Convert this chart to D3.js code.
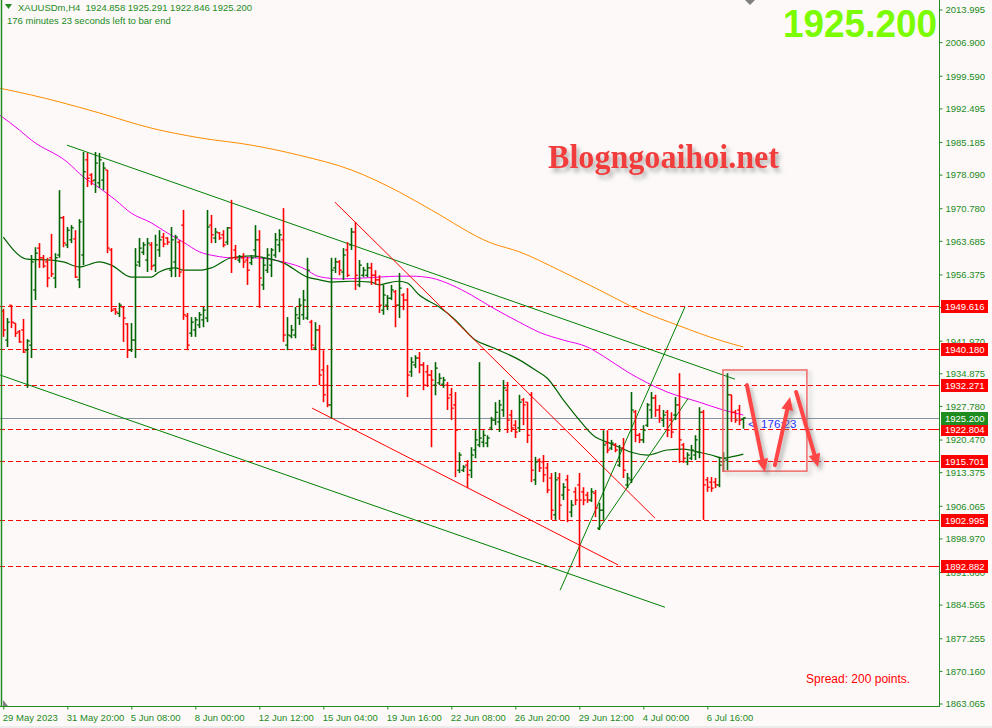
<!DOCTYPE html>
<html><head><meta charset="utf-8">
<script src="https://cdn.jsdelivr.net/npm/d3@7/dist/d3.min.js"></script>
<style>
html,body{margin:0;padding:0;background:#fdf9f9;overflow:hidden;}
svg{display:block;}
</style></head><body>
<svg id="c" width="992" height="728"></svg>
<script>
// ---------- DATA ----------
const openP = [
1948.4,1942.1,1949.7,1945.8,1943.9,1944.3,1939.9,1941.0,1953.0,1962.1,
1960.0,1959.1,1960.0,1955.6,1960.6,1968.7,1962.8,1963.9,1964.1,1955.2,
1960.6,1981.3,1978.0,1976.9,1976.3,1976.9,1979.1,1961.7,1948.9,1947.9,
1949.3,1945.6,1939.9,1942.1,1959.1,1961.2,1959.5,1962.8,1958.4,1961.7,
1964.5,1964.3,1957.3,1959.1,1963.4,1967.1,1947.3,1943.6,1944.3,1945.4,
1946.5,1946.9,1967.1,1964.3,1965.4,1965.0,1963.4,1966.5,1961.7,1959.5,
1960.0,1959.5,1958.9,1961.7,1963.9,1954.1,1957.3,1958.4,1960.6,1962.8,
1963.9,1941.0,1943.0,1943.2,1946.9,1947.6,1946.9,1946.0,1940.4,1944.3,
1935.6,1932.3,1928.0,1957.8,1959.1,1956.9,1961.7,1962.8,1965.6,1954.1,
1956.2,1956.2,1957.8,1956.2,1955.2,1948.6,1949.7,1951.2,1952.6,1949.7,
1951.9,1950.8,1935.2,1936.7,1938.2,1936.7,1935.2,1934.5,1932.3,1932.8,
1932.5,1932.3,1930.2,1928.0,1913.8,1913.8,1914.9,1913.8,1918.2,1919.3,
1919.9,1919.7,1923.0,1924.7,1924.3,1926.9,1931.2,1925.8,1923.6,1923.0,
1929.1,1928.6,1930.2,1911.7,1916.0,1915.6,1914.3,1912.1,1904.1,1912.1,
1908.4,1911.7,1904.7,1909.1,1910.6,1909.1,1908.4,1907.3,1908.8,1901.2,
1905.1,1919.7,1918.6,1919.3,1914.9,1918.6,1910.6,1911.7,1926.5,1921.4,
1920.4,1923.6,1926.9,1929.5,1926.9,1924.7,1926.4,1924.7,1925.8,1928.0,
1919.3,1915.6,1916.4,1917.1,1917.7,1926.4,1911.7,1911.2,1911.2,1910.6,
1915.6,1916.0,1930.2,1926.4,1926.9,1924.858];
const highP = [
1948.9,1946.9,1949.7,1945.8,1944.3,1946.7,1942.3,1960.6,1962.3,1963.2,
1960.6,1960.0,1965.2,1961.0,1974.7,1969.1,1966.7,1967.1,1966.0,1968.4,
1983.0,1982.8,1978.4,1983.0,1982.8,1980.8,1979.1,1962.1,1949.1,1950.2,
1949.3,1945.8,1945.8,1962.1,1964.3,1963.4,1964.3,1963.4,1965.0,1966.0,
1965.4,1964.5,1966.7,1965.0,1963.9,1970.4,1948.0,1947.1,1947.1,1948.2,
1949.3,1970.4,1969.3,1966.5,1965.6,1966.0,1966.7,1972.6,1962.8,1960.6,
1961.0,1960.2,1960.6,1967.1,1966.0,1960.0,1962.1,1962.1,1965.4,1966.2,
1970.8,1947.1,1945.4,1949.3,1951.2,1953.0,1960.0,1946.5,1946.0,1945.4,
1939.9,1936.7,1960.0,1960.0,1959.5,1962.1,1963.4,1966.5,1967.8,1959.5,
1958.0,1958.9,1958.9,1957.3,1956.2,1954.1,1951.9,1954.1,1953.0,1956.7,
1952.3,1953.4,1938.4,1938.8,1939.5,1937.3,1936.7,1935.6,1937.3,1934.9,
1934.1,1933.0,1931.7,1930.8,1917.7,1914.9,1916.0,1918.8,1922.5,1937.3,
1922.5,1921.4,1925.4,1928.6,1929.1,1933.4,1933.0,1926.9,1924.7,1930.2,
1929.5,1928.6,1930.8,1916.7,1916.4,1917.1,1915.4,1913.2,1913.4,1913.2,
1911.0,1912.8,1907.3,1910.1,1913.2,1910.1,1909.1,1909.9,1909.5,1906.7,
1922.5,1922.5,1920.4,1919.7,1919.3,1920.8,1913.2,1930.8,1926.9,1921.9,
1923.6,1928.4,1930.8,1930.2,1928.0,1926.9,1926.9,1926.4,1929.7,1934.9,
1919.7,1917.7,1919.3,1921.4,1927.5,1926.9,1912.3,1912.3,1912.1,1916.7,
1917.7,1934.9,1930.2,1926.9,1928.0,1925.291];
const lowP = [
1942.8,1940.6,1944.7,1942.8,1941.5,1939.3,1931.7,1938.2,1950.8,1957.8,
1957.8,1953.6,1955.8,1953.4,1960.0,1962.3,1962.1,1963.2,1955.6,1953.4,
1958.4,1975.4,1975.8,1974.1,1975.2,1974.7,1961.0,1948.2,1947.6,1947.1,
1941.7,1938.2,1939.5,1938.2,1958.0,1960.6,1956.9,1957.3,1956.9,1960.2,
1962.3,1962.8,1955.8,1955.8,1955.8,1946.5,1939.9,1942.8,1942.8,1944.7,
1944.9,1946.0,1963.2,1963.2,1963.9,1962.3,1962.8,1956.7,1959.5,1958.9,
1957.8,1954.1,1958.4,1960.0,1949.1,1953.0,1956.7,1955.8,1960.0,1961.2,
1941.7,1939.9,1942.5,1942.5,1945.4,1946.5,1946.5,1939.9,1939.9,1932.3,
1928.6,1927.5,1925.1,1956.7,1956.2,1955.2,1955.8,1961.7,1953.0,1953.6,
1955.8,1955.8,1954.1,1954.1,1948.0,1947.6,1948.6,1950.8,1944.9,1946.9,
1948.6,1929.7,1934.1,1936.0,1934.9,1931.2,1931.9,1918.8,1930.1,1932.3,
1931.7,1926.9,1924.7,1912.3,1913.2,1913.4,1909.9,1912.1,1916.4,1918.8,
1918.8,1918.8,1922.5,1923.6,1922.1,1925.4,1921.9,1922.1,1920.8,1922.1,
1923.6,1919.7,1911.2,1910.6,1913.4,1911.2,1908.8,1903.0,1903.0,1903.0,
1907.3,1902.5,1903.6,1906.2,1892.7,1906.2,1906.7,1906.9,1903.6,1900.8,
1903.0,1917.5,1918.2,1917.7,1914.5,1912.1,1909.9,1911.0,1919.9,1919.7,
1919.7,1923.2,1925.1,1925.4,1924.1,1923.2,1921.0,1920.8,1924.7,1915.4,
1915.4,1914.9,1916.0,1916.0,1916.4,1903.0,1909.1,1909.1,1909.9,1910.1,
1913.4,1913.8,1924.3,1924.1,1923.6,1922.846];
const closeP = [
1944.3,1946.0,1946.0,1943.6,1941.7,1939.5,1941.9,1959.1,1961.0,1960.0,
1958.2,1955.6,1956.5,1960.0,1968.7,1963.2,1966.0,1966.5,1955.8,1967.8,
1978.7,1977.3,1976.7,1980.6,1981.3,1979.5,1962.1,1948.6,1948.2,1949.7,
1946.9,1939.9,1942.1,1958.4,1962.1,1962.8,1963.2,1958.2,1962.8,1963.9,
1963.0,1963.4,1963.9,1964.5,1956.9,1947.6,1941.0,1946.0,1946.5,1947.6,
1948.6,1966.7,1965.0,1965.6,1964.3,1962.8,1966.5,1960.0,1960.0,1960.2,
1959.1,1957.3,1960.0,1963.9,1955.6,1958.4,1960.6,1961.7,1963.9,1965.0,
1943.2,1943.2,1944.3,1947.6,1949.7,1950.8,1957.3,1941.0,1944.3,1934.5,
1930.2,1928.0,1957.3,1959.1,1957.3,1960.6,1956.2,1965.6,1956.2,1958.4,
1957.3,1957.8,1956.2,1955.2,1949.7,1951.9,1951.2,1953.0,1949.7,1953.4,
1950.8,1934.5,1937.3,1938.2,1936.7,1932.3,1934.5,1933.4,1936.0,1933.8,
1933.4,1929.5,1927.3,1922.5,1917.1,1914.5,1912.8,1917.1,1920.4,1920.8,
1921.4,1920.8,1924.7,1926.4,1928.0,1931.7,1924.7,1923.0,1922.1,1928.6,
1928.0,1921.4,1913.8,1915.6,1914.3,1912.8,1909.5,1905.1,1911.7,1906.2,
1910.1,1909.5,1906.2,1907.3,1907.3,1907.3,1907.3,1909.1,1905.6,1905.1,
1919.3,1918.2,1919.7,1918.2,1918.2,1913.8,1912.1,1926.9,1921.4,1920.4,
1922.5,1928.0,1929.5,1926.9,1925.1,1925.8,1922.5,1922.1,1928.0,1920.4,
1916.4,1917.1,1918.2,1920.4,1926.4,1910.6,1910.1,1909.9,1910.6,1914.9,
1916.4,1930.2,1926.4,1924.7,1924.7,1925.200];

// time axis: bar index of each date label, and the labels
const dateTickIdx = [0,16,32,48,64,80,96,112,128,144,160,176];
const dateTickLabels = ["29 May 2023","31 May 20:00","5 Jun 08:00","8 Jun 00:00","12 Jun 12:00","15 Jun 04:00","19 Jun 16:00","22 Jun 08:00","26 Jun 20:00","29 Jun 12:00","4 Jul 00:00","6 Jul 16:00"];
// price axis tick labels
const priceTicks = [2013.995,2006.900,1999.590,1992.495,1985.185,1978.090,1970.780,1963.685,1956.375,1949.280,1941.970,1934.875,1927.780,1920.470,1913.375,1906.065,1898.970,1891.660,1884.565,1877.255,1870.160,1863.065];
// horizontal support / resistance levels
const levels = [1949.616,1940.180,1932.271,1922.804,1915.701,1902.995,1892.882];
const lastPrice = 1925.200;

// moving averages, [bar index, price]
const maGreen = [[0,1964.5],[6,1959.7],[12,1959.5],[15,1959.1],[19,1958.0],[24,1959.1],[27,1958.4],[32,1955.8],[37,1955.8],[39,1956.9],[43,1957.8],[45,1957.3],[49,1957.3],[52,1957.8],[57,1960.0],[62,1960.4],[67,1959.7],[70,1958.9],[76,1955.8],[79,1955.2],[82,1954.7],[87,1954.9],[92,1954.7],[94,1954.1],[96,1954.5],[99,1954.9],[101,1954.5],[104,1951.9],[109,1949.3],[113,1946.5],[118,1942.1],[122,1940.6],[129,1937.8],[133,1935.6],[136,1933.8],[140,1929.1],[143,1925.8],[148,1921.0],[151,1919.9],[154,1918.8],[157,1917.7],[161,1917.1],[166,1918.2],[170,1918.4],[174,1917.7],[177,1917.1],[180,1916.4],[182,1916.7],[185,1917.3]];
const maMagenta = [[-1,1991.1],[4,1987.8],[7,1985.6],[16,1980.8],[20,1977.6],[24,1975.2],[28,1972.6],[32,1969.7],[37,1967.6],[41,1965.4],[45,1963.4],[49,1961.3],[53,1960.4],[57,1960.0],[62,1960.0],[70,1959.1],[76,1957.3],[78,1956.2],[81,1955.6],[84,1955.4],[90,1955.6],[94,1955.8],[99,1956.0],[102,1956.0],[107,1955.6],[112,1954.1],[117,1951.9],[122,1949.3],[129,1946.0],[134,1943.8],[140,1942.1],[146,1940.6],[150,1938.6],[156,1935.2],[161,1932.8],[166,1930.8],[174,1928.6],[180,1926.9],[185,1925.8]];
const maOrange = [[-1,1996.9],[7,1995.4],[14,1993.9],[24,1991.5],[37,1988.2],[49,1986.1],[62,1984.5],[74,1982.3],[87,1979.1],[99,1974.3],[107,1970.4],[122,1963.2],[129,1961.3],[139,1957.3],[149,1953.0],[159,1948.6],[169,1945.2],[179,1942.1],[185,1940.6]];

// drawn trend lines: [index1, price1, index2, price2]
const greenTrend = [[15.9,1984.5,182.9,1933.6],[-0.8,1934.5,165.4,1884.0],[139.2,1887.7,170.4,1949.3],[148.7,1900.8,171.2,1929.4]];
const redTrend = [[82.9,1972.1,162.9,1903.4],[77.2,1927.3,153.7,1893.2]];
// annotation box and projected arrows
const boxArea = [179.9,1935.6,200.9,1913.6];
const arrows = [[185.9,1932.3,190.4,1913.4],[192.9,1914.9,196.7,1929.7],[198.2,1930.8,203.7,1914.5]];

// ---------- DRAW ----------
const W = 992, H = 728;
const plotR = 939, plotB = 707;
const svg = d3.select("#c");
const x = d3.scaleLinear().domain([0,185]).range([3.3,743.3]);
const y = d3.scaleLinear().domain([1863.065,2013.995]).range([703.5,9.5]);
const axisCol = "#228b22", txtCol = "#228b22";
const font = "'Liberation Sans', Arial, sans-serif";

const defs = svg.append("defs");
const sh = defs.append("filter").attr("id","sh").attr("x","-20%").attr("y","-20%").attr("width","160%").attr("height","160%");
sh.append("feDropShadow").attr("dx",3).attr("dy",4).attr("stdDeviation",2).attr("flood-color","#777").attr("flood-opacity",0.55);
const sh2 = defs.append("filter").attr("id","sh2").attr("x","-30%").attr("y","-30%").attr("width","180%").attr("height","180%");
sh2.append("feDropShadow").attr("dx",3).attr("dy",3).attr("stdDeviation",2).attr("flood-color","#888").attr("flood-opacity",0.5);
defs.append("clipPath").attr("id","clip").append("rect").attr("x",0).attr("y",0).attr("width",plotR).attr("height",plotB);

svg.append("rect").attr("x",0).attr("y",0).attr("width",W).attr("height",H).attr("fill","#fdf9f9");
svg.append("rect").attr("x",0).attr("y",H-2).attr("width",W).attr("height",2).attr("fill","#ececec");

const plot = svg.append("g").attr("clip-path","url(#clip)");

// levels
plot.selectAll("line.lvl").data(levels).join("line").attr("class","lvl")
  .attr("x1",0).attr("x2",plotR).attr("y1",d=>Math.round(y(d))+0.5).attr("y2",d=>Math.round(y(d))+0.5)
  .attr("stroke","#ff0000").attr("stroke-width",1).attr("stroke-dasharray","5,3");
// last price line
plot.append("line").attr("x1",0).attr("x2",plotR).attr("y1",Math.round(y(lastPrice))+0.5).attr("y2",Math.round(y(lastPrice))+0.5)
  .attr("stroke","#8391a0").attr("stroke-width",1);

// moving averages
const ln = d3.line().x(d=>x(d[0])).y(d=>y(d[1])).curve(d3.curveMonotoneX);
plot.append("path").attr("d",ln(maOrange)).attr("fill","none").attr("stroke","#ff8c00").attr("stroke-width",1);
plot.append("path").attr("d",ln(maMagenta)).attr("fill","none").attr("stroke","#ee00ee").attr("stroke-width",1);
plot.append("path").attr("d",ln(maGreen)).attr("fill","none").attr("stroke","#006400").attr("stroke-width",1.2);

// trend lines
plot.selectAll("line.gt").data(greenTrend).join("line").attr("class","gt")
  .attr("x1",d=>x(d[0])).attr("y1",d=>y(d[1])).attr("x2",d=>x(d[2])).attr("y2",d=>y(d[3]))
  .attr("stroke","#008000").attr("stroke-width",1);
plot.selectAll("line.rt").data(redTrend).join("line").attr("class","rt")
  .attr("x1",d=>x(d[0])).attr("y1",d=>y(d[1])).attr("x2",d=>x(d[2])).attr("y2",d=>y(d[3]))
  .attr("stroke","#ff0000").attr("stroke-width",1);

// OHLC bars
const bars = d3.range(openP.length).map(i=>({i,o:openP[i],h:highP[i],l:lowP[i],c:closeP[i]}));
const bg = plot.append("g");
bars.forEach(b=>{
  const cx = Math.round(x(b.i))+0.5;
  const col = b.c >= b.o ? "#006400" : "#ff0000";
  const yh = y(b.h), yl = y(b.l);
  bg.append("line").attr("x1",cx).attr("x2",cx).attr("y1",yh).attr("y2",yl).attr("stroke",col).attr("stroke-width",1.6);
  const yo = y(b.o), yc = y(b.c);
  bg.append("line").attr("x1",cx-2.3).attr("x2",cx).attr("y1",yo).attr("y2",yo).attr("stroke",col).attr("stroke-width",1.3);
  bg.append("line").attr("x1",cx).attr("x2",cx+2.3).attr("y1",yc).attr("y2",yc).attr("stroke",col).attr("stroke-width",1.3);
});

// annotation box
svg.append("rect").attr("x",x(boxArea[0])).attr("y",y(boxArea[1]))
  .attr("width",x(boxArea[2])-x(boxArea[0])).attr("height",y(boxArea[3])-y(boxArea[1]))
  .attr("fill","none").attr("stroke","#f06a6a").attr("stroke-width",1.5).attr("filter","url(#sh2)");

// countdown text
svg.append("text").attr("x",748).attr("y",428).attr("font-family",font).attr("font-size",11.5)
  .attr("fill","#2233ff").attr("xml:space","preserve").text("<  176:23");

// arrows
const ag = svg.append("g").attr("filter","url(#sh)");
arrows.forEach(a=>{
  const x1=x(a[0]), y1=y(a[1]), x2=x(a[2]), y2=y(a[3]);
  const ang = Math.atan2(y2-y1,x2-x1);
  const hl = 13, hw = 6;
  const bx = x2 - hl*Math.cos(ang), by = y2 - hl*Math.sin(ang);
  ag.append("line").attr("x1",x1).attr("y1",y1).attr("x2",bx).attr("y2",by)
    .attr("stroke","#ff4545").attr("stroke-width",4).attr("stroke-linecap","round");
  const px = -Math.sin(ang), py = Math.cos(ang);
  ag.append("path").attr("d",`M${x2},${y2}L${bx+hw*px},${by+hw*py}L${bx-hw*px},${by-hw*py}Z`).attr("fill","#ff4545");
});

// left border
svg.append("line").attr("x1",1.5).attr("x2",1.5).attr("y1",0).attr("y2",plotB).attr("stroke",axisCol).attr("stroke-width",1.5);

// right price axis
const yAxis = d3.axisRight(y).tickValues(priceTicks).tickFormat(d3.format(".3f")).tickSize(3).tickPadding(3);
const ya = svg.append("g").attr("transform",`translate(${plotR+0.5},0)`).call(yAxis);
ya.select(".domain").attr("d",`M0,0V${plotB}`).attr("stroke",axisCol);
ya.selectAll(".tick line").attr("stroke",axisCol);
ya.selectAll(".tick text").attr("fill",txtCol).attr("font-family",font).attr("font-size",9.5).attr("dy","0.35em");

// bottom time axis
const xAxis = d3.axisBottom(x).tickValues(dateTickIdx).tickFormat((d,k)=>dateTickLabels[k]).tickSize(3).tickPadding(5);
const xa = svg.append("g").attr("transform",`translate(0,${plotB-0.5})`).call(xAxis);
xa.select(".domain").attr("d",`M0,0H${plotR+0.5}`).attr("stroke",axisCol);
xa.selectAll(".tick line").attr("stroke",axisCol);
xa.selectAll(".tick text").attr("fill",txtCol).attr("font-family",font).attr("font-size",9.5).attr("text-anchor","start").attr("dx",-1);

// level labels on the price axis
const lg = svg.append("g");
levels.forEach(v=>{
  const yy = Math.round(y(v));
  lg.append("line").attr("x1",932).attr("x2",936).attr("y1",yy+0.5).attr("y2",yy+0.5).attr("stroke","#ff0000");
  lg.append("rect").attr("x",941).attr("y",yy-6).attr("width",47).attr("height",13).attr("fill","#ff0000");
  lg.append("text").attr("x",945).attr("y",yy+4).attr("fill","#fff").attr("font-family",font).attr("font-size",9.5).text(d3.format(".3f")(v));
});
{
  const yy = Math.round(y(lastPrice));
  lg.append("rect").attr("x",941).attr("y",yy-6).attr("width",47).attr("height",13).attr("fill","#1e8c1e");
  lg.append("text").attr("x",945).attr("y",yy+4).attr("fill","#fff").attr("font-family",font).attr("font-size",9.5).text(d3.format(".3f")(lastPrice));
}

// small shift markers
svg.append("path").attr("d","M3,700L8,706L3,706Z").attr("fill","#808080");
svg.append("path").attr("d","M745,0L755,0L750,5Z").attr("fill","#808080");

// header
svg.append("path").attr("d","M5,4L12,4L8.5,9Z").attr("fill","#228b22");
svg.append("text").attr("x",18).attr("y",11).attr("font-family",font).attr("font-size",9.5).attr("fill",txtCol)
  .attr("xml:space","preserve").text("XAUUSDm,H4  1924.858 1925.291 1922.846 1925.200");
svg.append("text").attr("x",7).attr("y",24).attr("font-family",font).attr("font-size",9.5).attr("fill",txtCol)
  .text("176 minutes 23 seconds left to bar end");

// big price
svg.append("text").attr("x",783).attr("y",37).attr("font-family",font).attr("font-weight","bold").attr("font-size",38)
  .attr("fill","#7cfc00").attr("textLength",154).attr("lengthAdjust","spacingAndGlyphs").text("1925.200");

// watermark
svg.append("text").attr("x",548).attr("y",168).attr("font-family","'Liberation Serif','Times New Roman',serif").attr("font-weight","bold")
  .attr("font-size",34).attr("fill","#f23c3c").attr("filter","url(#sh)").attr("textLength",231).attr("lengthAdjust","spacingAndGlyphs")
  .text("Blogngoaihoi.net");

// spread
svg.append("text").attr("x",806).attr("y",683).attr("font-family",font).attr("font-size",12).attr("fill","#ff0000").text("Spread: 200 points.");
</script>
</body></html>
